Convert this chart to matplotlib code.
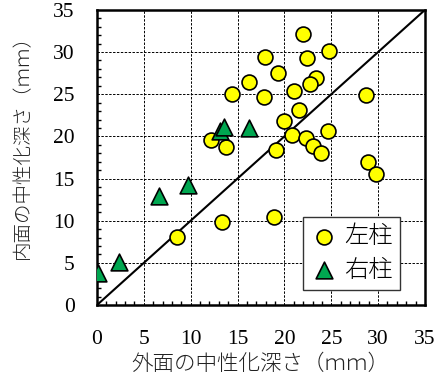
import matplotlib.pyplot as plt
from matplotlib.ticker import MultipleLocator

plt.rcParams['font.family'] = ['Liberation Serif', 'Noto Sans CJK JP']

# 左柱 (outer, inner) depth in mm
left_x = [22.0, 24.8, 22.4, 17.9, 19.3, 16.2, 23.4, 22.7, 21.0, 14.4, 17.8, 28.7,
          21.6, 20.0, 24.7, 20.8, 22.3, 12.2, 13.8, 23.0, 19.1, 23.9, 28.9, 29.8,
          18.9, 13.3, 8.5]
left_y = [32.1, 30.1, 29.3, 29.4, 27.5, 26.5, 26.9, 26.2, 25.4, 25.0, 24.7, 24.9,
          23.1, 21.8, 20.6, 20.2, 19.8, 19.6, 18.7, 18.8, 18.4, 18.0, 17.0, 15.5,
          10.4, 9.8, 8.1]

# 右柱
right_x = [13.1, 13.6, 16.2, 9.7, 6.6, 2.3, 0.1]
right_y = [20.6, 21.1, 21.0, 14.2, 12.9, 5.1, 3.8]

fig = plt.figure(figsize=(4.39, 3.81), dpi=100)
ax = fig.add_axes([0.221, 0.1995, 0.747, 0.7745])

ax.plot([0, 35], [0, 35], color='black', lw=1.5, zorder=2)
ax.scatter(left_x, left_y, s=115, c='#ffff00', edgecolors='black', linewidths=1.2,
           zorder=3, label='左柱')
ax.scatter(right_x, right_y, marker='^', s=145, c='#00a650', edgecolors='black',
           linewidths=1.2, zorder=4, label='右柱')

ax.set_xlim(0, 35)
ax.set_ylim(0, 35)
ax.xaxis.set_major_locator(MultipleLocator(5))
ax.yaxis.set_major_locator(MultipleLocator(5))
ax.xaxis.set_minor_locator(MultipleLocator(1))
ax.yaxis.set_minor_locator(MultipleLocator(1))
ax.tick_params(which='both', direction='in', labelsize=15.5)
ax.tick_params(axis='x', pad=18)
ax.tick_params(axis='y', pad=16)
ax.tick_params(which='major', length=0)
ax.tick_params(which='minor', length=3, width=1)
ax.grid(True, which='major', color='black', linestyle='--', lw=0.7, dashes=(2.5, 1.5))
ax.set_axisbelow(True)
for sp in ax.spines.values():
    sp.set_linewidth(1.8)

ax.set_xlabel('外面の中性化深さ（ｍｍ）', fontsize=15.5, family='Noto Sans CJK JP',
              fontweight='light', color='#222222')
ax.set_ylabel('内面の中性化深さ（ｍｍ）', fontsize=14, family='Noto Sans CJK JP',
              fontweight='light', color='#222222')
ax.xaxis.set_label_coords(0.497, -0.163)
ax.yaxis.set_label_coords(-0.195, 0.553)

leg = ax.legend(loc='upper left', bbox_to_anchor=(0.628, 0.298), borderaxespad=0,
                prop={'family': 'Noto Sans CJK JP', 'size': 17.5, 'weight': 'light'},
                fancybox=False, framealpha=1, edgecolor='#333333',
                handletextpad=0.3, borderpad=0.3, labelspacing=0.35, handlelength=1.1)
leg.get_frame().set_linewidth(1.0)

fig.savefig('out.png', dpi=100)
